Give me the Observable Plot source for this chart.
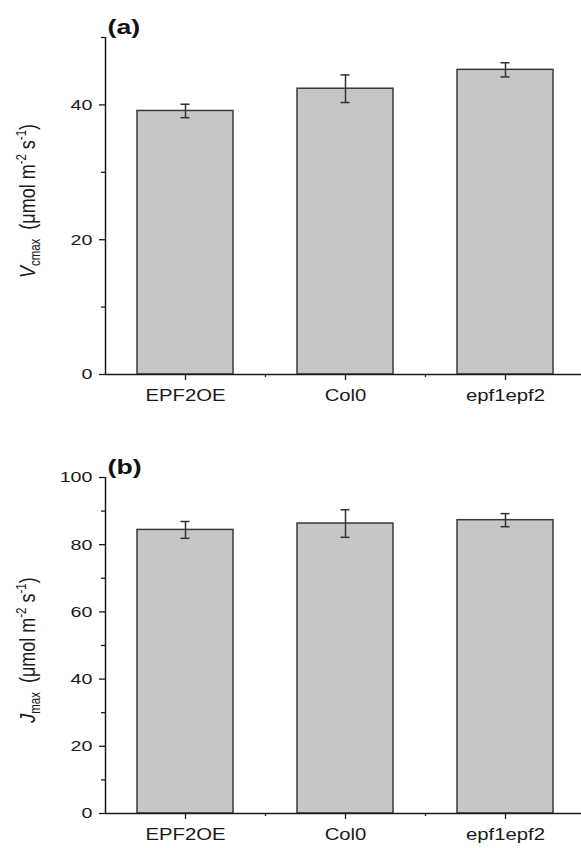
<!DOCTYPE html>
<html>
<head>
<meta charset="utf-8">
<script src="https://cdn.jsdelivr.net/npm/d3@7"></script>
<script src="https://cdn.jsdelivr.net/npm/@observablehq/plot@0.6"></script>
<style>
  html, body { margin: 0; padding: 0; background: #fff; }
  #chart svg { display: block; }
</style>
</head>
<body>
<div id="chart"></div>
<script>
// Genotypes on the x axis
const groups = ["EPF2OE", "Col0", "epf1epf2"];

// (a) maximum carboxylation rate, mean and error
const vcmax = [39.1, 42.4, 45.2];
const vcmaxErr = [1.0, 2.05, 1.05];

// (b) maximum electron transport rate, mean and error
const jmax = [84.4, 86.3, 87.3];
const jmaxErr = [2.5, 4.1, 1.95];

// Axis tick values
const vMajor = [0, 20, 40];
const vMinor = [10, 30, 50];
const jMajor = [0, 20, 40, 60, 80, 100];
const jMinor = [10, 30, 50, 70, 90];

const FONT = "'Liberation Sans', Arial, Helvetica, sans-serif";
const INK = "#1a1a1a";
const W = 581, H = 424;
const SX = 1.27; // horizontal stretch of lettering

function panel({values, errors, yMax, major, minor, marginTop, marginBottom, tag, symbol, sub, labelY}) {
  const rows = groups.map((g, i) => ({g, v: values[i], lo: values[i] - errors[i], hi: values[i] + errors[i]}));
  const svg = Plot.plot({
    width: W,
    height: H,
    marginLeft: 105,
    marginRight: 0,
    marginTop,
    marginBottom,
    style: {fontFamily: FONT, fontSize: "16px", color: INK, background: "#fff", overflow: "visible"},
    x: {domain: groups, range: [105, 585], paddingInner: 0.4, paddingOuter: 0.2},
    y: {domain: [0, yMax]},
    marks: [
      Plot.barY(rows, {x: "g", y: "v", fill: "#c6c6c6", stroke: "#3a3a3a", strokeWidth: 1.5}),
      Plot.ruleX(rows, {x: "g", y1: "lo", y2: "hi", stroke: "#333", strokeWidth: 1.5}),
      Plot.tickY(rows, {x: "g", y: "lo", insetLeft: 43.5, insetRight: 43.5, stroke: "#333", strokeWidth: 1.5}),
      Plot.tickY(rows, {x: "g", y: "hi", insetLeft: 43.5, insetRight: 43.5, stroke: "#333", strokeWidth: 1.5}),
      // axis lines
      Plot.ruleY([0], {stroke: INK, strokeWidth: 1.5}),
      Plot.ruleX([groups[0]], {y1: 0, y2: yMax, dx: -80, stroke: INK, strokeWidth: 1.5}),
      // y axis ticks
      Plot.axisY({ticks: major, tickSize: 6, tickPadding: 7, label: null, strokeWidth: 1.3, fontSize: 15.5, fontFamily: FONT}),
      Plot.axisY({ticks: minor, tickSize: 4, tickFormat: () => "", label: null, strokeWidth: 1.3}),
      // x axis ticks: centred labels and small ticks between groups
      Plot.axisX({tickSize: 6, tickPadding: 9, label: null, strokeWidth: 1.3, fontSize: 16, fontFamily: FONT}),
      Plot.axisX({ticks: groups.slice(0, 2), tickSize: 3, dx: 80, tickFormat: () => "", label: null, strokeWidth: 1.3}),
      // panel tag
      Plot.text([tag], {frameAnchor: "top-left", textAnchor: "start", lineAnchor: "bottom", dx: 2, dy: -4, fontSize: 21, fontWeight: "bold", fontFamily: FONT, fill: "#111"})
    ]
  });

  // widen the lettering about its anchor point
  d3.select(svg).selectAll("text").each(function() {
    const el = d3.select(this);
    const xa = el.attr("x");
    if (xa != null && isFinite(+xa)) el.attr("x", +xa / SX);
    const tr = el.attr("transform") || "";
    el.attr("transform", `${tr} scale(${SX},1)`);
  });

  // y axis title with italic symbol, subscript and superscripts
  const t = d3.select(svg).append("text")
    .attr("transform", `translate(35,${labelY}) scale(${SX},1) rotate(-90)`)
    .attr("text-anchor", "middle")
    .attr("font-family", FONT)
    .attr("font-size", 18)
    .attr("fill", INK);
  t.append("tspan").attr("font-style", "italic").text(symbol);
  t.append("tspan").attr("font-size", 11.5).attr("dy", 4).text(sub);
  t.append("tspan").attr("dy", -4).attr("xml:space", "preserve").text("\u2002(\u03bcmol m");
  t.append("tspan").attr("font-size", 11.5).attr("dy", -7).text("-2");
  t.append("tspan").attr("dy", 7).text(" s");
  t.append("tspan").attr("font-size", 11.5).attr("dy", -7).text("-1");
  t.append("tspan").attr("dy", 7).text(")");
  return svg;
}

const chart = document.getElementById("chart");
chart.append(panel({
  values: vcmax, errors: vcmaxErr, yMax: 50, major: vMajor, minor: vMinor,
  marginTop: 37, marginBottom: 50, tag: "(a)", symbol: "V", sub: "cmax", labelY: 201
}));
chart.append(panel({
  values: jmax, errors: jmaxErr, yMax: 100, major: jMajor, minor: jMinor,
  marginTop: 53, marginBottom: 35, tag: "(b)", symbol: "J", sub: "max", labelY: 226
}));
</script>
</body>
</html>
